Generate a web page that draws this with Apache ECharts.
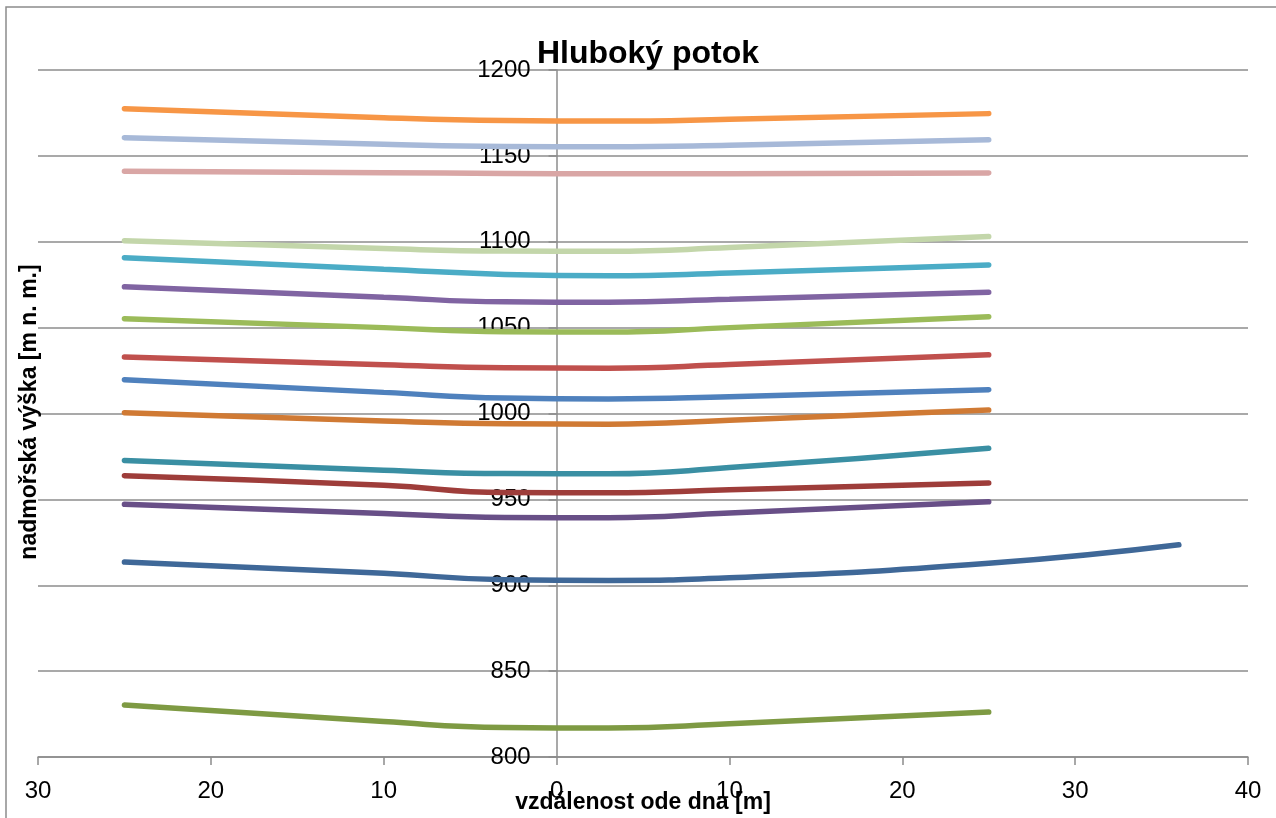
<!DOCTYPE html>
<html>
<head>
<meta charset="utf-8">
<script src="https://cdn.jsdelivr.net/npm/echarts@6/dist/echarts.min.js"></script>
<style>
html,body{margin:0;padding:0;background:#fff;}
#chart{width:1276px;height:818px;}
</style>
</head>
<body>
<div id="chart"></div>
<script>
// distances from the stream bed [m] (negative = left bank)
const offsets = [-25, -10, -3, 3, 10, 25];
const offsetsLong = [-25, -10, -3, 3, 10, 25, 36];

// altitude profiles [m n. m.]
const p1177 = [1177.5, 1172.2, 1170.6, 1170.3, 1171.3, 1174.6];
const p1160 = [1160.6, 1156.8, 1155.5, 1155.3, 1156.2, 1159.4];
const p1141 = [1141.0, 1140.2, 1139.8, 1139.6, 1139.6, 1140.1];
const p1100 = [1100.6, 1096.0, 1094.6, 1094.5, 1096.6, 1103.0];
const p1090 = [1090.7, 1084.0, 1081.0, 1080.2, 1081.8, 1086.5];
const p1073 = [1073.8, 1067.7, 1065.0, 1064.8, 1066.5, 1070.6];
const p1055 = [1055.2, 1050.0, 1047.6, 1047.4, 1050.0, 1056.4];
const p1033 = [1032.9, 1028.4, 1026.6, 1026.4, 1028.5, 1034.2];
const p1020 = [1019.7, 1012.3, 1009.0, 1008.5, 1009.8, 1013.9];
const p1000 = [1000.5, 995.7, 994.0, 993.8, 996.0, 1002.0];
const p973  = [972.7, 967.0, 965.0, 964.9, 968.5, 979.8];
const p964  = [963.8, 958.2, 954.0, 953.8, 955.6, 959.5];
const p947  = [947.1, 941.8, 939.5, 939.3, 942.0, 948.6];
const p913  = [913.5, 907.0, 903.2, 902.8, 904.3, 912.8, 923.6];
const p830  = [830.3, 820.6, 817.2, 816.9, 819.3, 826.2];

const profiles = [p1177, p1160, p1141, p1100, p1090, p1073, p1055, p1033, p1020, p1000, p973, p964, p947, p913, p830];
const colors = ['#F79646', '#A7B9D8', '#D9A6A5', '#C3D6AA', '#4BACC6', '#8064A2', '#9BBB59', '#C0504D', '#4F81BD',
                '#D07A34', '#3A8FA3', '#9E3D3A', '#684F87', '#3F6898', '#7E9A43'];

const xTicks = {min: -30, max: 40, step: 10};
const yTicks = {min: 800, max: 1200, step: 50};

const titleText = 'Hluboký potok';
const xName = 'vzdálenost ode dna [m]';
const yName = 'nadmořská výška [m n. m.]';

const gridLeft = 38, gridRight = 28, chartW = 1276;
const plotW = chartW - gridLeft - gridRight;
// shift the value axis onto x = 0 (layout offset in pixels)
const yAxisOffset = -plotW * (0 - xTicks.min) / (xTicks.max - xTicks.min);

const series = profiles.map((vals, i) => {
  const xs = vals.length === offsetsLong.length ? offsetsLong : offsets;
  return {
    type: 'line',
    data: vals.map((v, j) => [xs[j], v]),
    smooth: 0.5,
    showSymbol: false,
    symbol: 'none',
    lineStyle: {color: colors[i], width: 5.5, cap: 'round', join: 'round'},
    itemStyle: {color: colors[i]},
    z: 3
  };
});

const chart = echarts.init(document.getElementById('chart'), null, {renderer: 'canvas'});
chart.setOption({
  animation: false,
  backgroundColor: '#ffffff',
  textStyle: {fontFamily: 'Liberation Sans'},
  title: {
    text: titleText,
    left: 643, top: 33,
    textAlign: 'center',
    textStyle: {fontFamily: 'Liberation Sans', fontWeight: 'bold', fontSize: 32, color: '#000'}
  },
  grid: {left: gridLeft, right: gridRight, top: 70, bottom: 61, containLabel: false, outerBoundsMode: 'none'},
  xAxis: {
    type: 'value',
    min: xTicks.min, max: xTicks.max, interval: xTicks.step,
    axisLine: {show: true, onZero: false, lineStyle: {color: '#8c8c8c', width: 1.5}},
    axisTick: {show: true, length: 8, inside: false, lineStyle: {color: '#8c8c8c', width: 1.5}},
    axisLabel: {
      show: true, margin: 22, fontSize: 24, color: '#000', fontFamily: 'Liberation Sans',
      showMinLabel: true, showMaxLabel: true,
      formatter: v => String(Math.abs(v))
    },
    splitLine: {show: false}
  },
  yAxis: {
    type: 'value',
    position: 'left',
    offset: yAxisOffset,
    min: yTicks.min, max: yTicks.max, interval: yTicks.step,
    axisLine: {show: true, onZero: false, lineStyle: {color: '#8c8c8c', width: 1.5}},
    axisTick: {show: true, length: 8, inside: false, lineStyle: {color: '#8c8c8c', width: 1.5}},
    axisLabel: {show: true, margin: 26, fontSize: 24, color: '#000', fontFamily: 'Liberation Sans',
      showMinLabel: true, showMaxLabel: true, formatter: v => String(v)},
    splitLine: {show: true, lineStyle: {color: '#8c8c8c', width: 1.5}}
  },
  graphic: [
    {type: 'rect', z: -1, silent: true,
     shape: {x: 6, y: 7, width: 1300, height: 900},
     style: {fill: 'none', stroke: '#8c8c8c', lineWidth: 1.5}},
    {type: 'text', z: 10, x: 643, y: 803,
     style: {text: xName, font: 'bold 23px "Liberation Sans"', fill: '#000', align: 'center', verticalAlign: 'middle'}},
    {type: 'text', z: 10, x: 30, y: 412, rotation: Math.PI / 2,
     style: {text: yName, font: 'bold 23px "Liberation Sans"', fill: '#000', align: 'center', verticalAlign: 'middle'}}
  ],
  series: series
});
</script>
</body>
</html>
